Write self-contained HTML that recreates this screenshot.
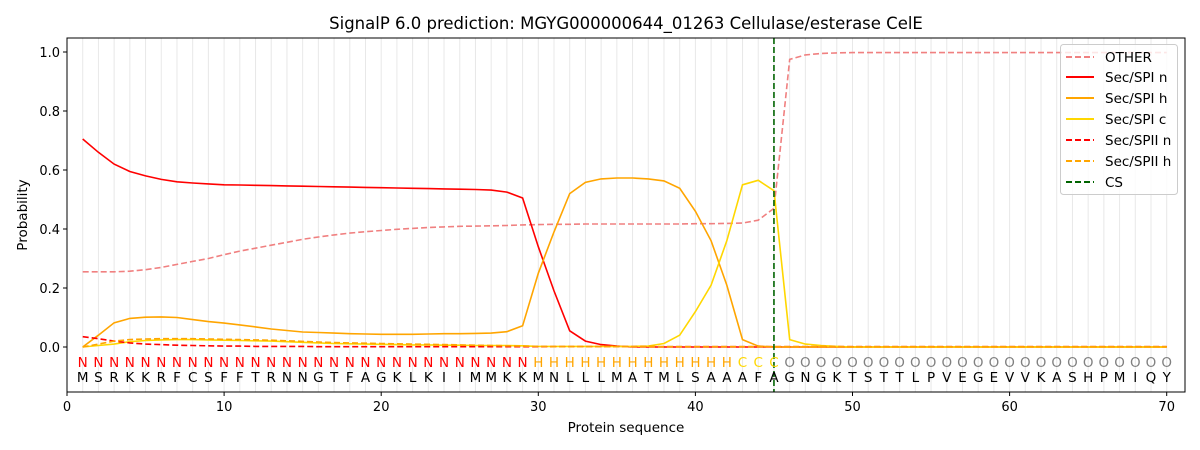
<!DOCTYPE html>
<html><head><meta charset="utf-8"><style>
html,body{margin:0;padding:0;background:#fff;}
svg{display:block;font-family:"DejaVu Sans","Liberation Sans",sans-serif;}
</style></head><body>
<svg id="s" width="1200" height="450" xmlns="http://www.w3.org/2000/svg">
<rect width="1200" height="450" fill="#fff"/>
<g id="grid"></g>
<g id="lines"></g>
<g id="letters"></g>
<rect x="67" y="38" width="1118" height="354" fill="none" stroke="#000" stroke-width="1"/>
<g id="ticks" font-size="13" fill="#000"></g>
<text x="626" y="29" font-size="16.5" text-anchor="middle">SignalP 6.0 prediction: MGYG000000644_01263 Cellulase/esterase CelE</text>
<text x="626" y="432" font-size="13.5" text-anchor="middle">Protein sequence</text>
<text transform="translate(27,215) rotate(-90)" font-size="13.5" text-anchor="middle">Probability</text>
<g>
<rect x="1060.5" y="44.5" width="117" height="150" rx="3" fill="#fff" fill-opacity="0.8" stroke="#ccc"/>
<g font-size="13.5">
<line x1="1066" x2="1094" y1="57" y2="57" stroke="#f08080" stroke-width="2" stroke-dasharray="6,3"/><text x="1105" y="62">OTHER</text>
<line x1="1066" x2="1094" y1="77" y2="77" stroke="#ff0000" stroke-width="2"/><text x="1105" y="82">Sec/SPI n</text>
<line x1="1066" x2="1094" y1="98" y2="98" stroke="#ffa500" stroke-width="2"/><text x="1105" y="103">Sec/SPI h</text>
<line x1="1066" x2="1094" y1="119" y2="119" stroke="#ffd700" stroke-width="2"/><text x="1105" y="124">Sec/SPI c</text>
<line x1="1066" x2="1094" y1="140" y2="140" stroke="#ff0000" stroke-width="2" stroke-dasharray="6,3"/><text x="1105" y="145">Sec/SPII n</text>
<line x1="1066" x2="1094" y1="161" y2="161" stroke="#ffa500" stroke-width="2" stroke-dasharray="6,3"/><text x="1105" y="166">Sec/SPII h</text>
<line x1="1066" x2="1094" y1="182" y2="182" stroke="#006400" stroke-width="2" stroke-dasharray="6,3"/><text x="1105" y="187">CS</text>
</g></g>
</svg>
<script>
var NS="http://www.w3.org/2000/svg";
function X(v){return 67+15.71*v;}
function Y(p){return 347-295*p;}
function el(t,a,p,txt){var e=document.createElementNS(NS,t);for(var k in a)e.setAttribute(k,a[k]);if(txt!==undefined)e.textContent=txt;document.getElementById(p).appendChild(e);return e;}
for(var i=1;i<=70;i++)el("line",{x1:X(i),x2:X(i),y1:38,y2:392,stroke:"#e8e8e8","stroke-width":1},"grid");
for(var t=0;t<=70;t+=10){el("line",{x1:X(t),x2:X(t),y1:392,y2:396,stroke:"#000"},"ticks");el("text",{x:X(t),y:411,"text-anchor":"middle"},"ticks",""+t);}
for(var t=0;t<=5;t++){var p=t*0.2;el("line",{x1:63,x2:67,y1:Y(p),y2:Y(p),stroke:"#000"},"ticks");el("text",{x:60,y:Y(p)+5,"text-anchor":"end"},"ticks",p.toFixed(1));}
function fill(arr,n,v){while(arr.length<n)arr.push(v);return arr;}
var other=fill([.255,.255,.255,.257,.262,.27,.28,.29,.30,.313,.325,.335,.345,.355,.365,.373,.38,.386,.391,.395,.399,.402,.405,.407,.409,.41,.411,.412,.414,.415,.416,.416,.417,.417,.417,.417,.417,.417,.417,.418,.418,.419,.42,.43,.47,.975,.99,.995,.997],70,.998);
var n1=fill([.705,.66,.62,.595,.58,.568,.56,.556,.553,.55,.549,.548,.547,.546,.545,.544,.543,.542,.541,.540,.539,.538,.537,.536,.535,.534,.532,.525,.505,.34,.19,.055,.02,.008,.003],70,0);
var h1=fill([0,.04,.082,.097,.101,.102,.1,.093,.086,.081,.075,.068,.061,.056,.051,.049,.047,.045,.044,.043,.043,.043,.044,.045,.045,.046,.047,.052,.072,.25,.39,.52,.558,.57,.573,.573,.57,.563,.538,.46,.36,.21,.025,.003],70,0);
var c1=fill([0,.005,.01,.018,.022,.024,.025,.025,.024,.023,.022,.021,.02,.018,.016,.014,.012,.011,.01,.009,.008,.007,.007,.006,.006,.005,.005,.005,.004,.002,.002,.002,.002,.002,.002,.002,.003,.012,.04,.12,.21,.36,.55,.565,.53,.025,.01,.005,.002],70,0);
var n2=fill([.035,.028,.02,.014,.01,.008,.006,.005,.004,.003,.003,.002,.002,.002,.002,.001],70,0.001);
var h2=fill([0,.01,.02,.025,.027,.028,.028,.028,.027,.026,.025,.024,.023,.021,.019,.017,.015,.014,.013,.012,.011,.01,.009,.008,.007,.006,.005,.004,.003,.002],70,0.001);
function pl(d,c,dash){var s="";for(var i=0;i<d.length;i++)s+=(i?"L":"M")+X(i+1).toFixed(1)+","+Y(d[i]).toFixed(1);var a={d:s,fill:"none",stroke:c,"stroke-width":1.6};if(dash)a["stroke-dasharray"]="6,3";el("path",a,"lines");}
pl(other,"#f08080",1);pl(n1,"#ff0000");pl(h1,"#ffa500");pl(c1,"#ffd700");pl(n2,"#ff0000",1);pl(h2,"#ffa500",1);
el("line",{x1:X(45),x2:X(45),y1:38,y2:392,stroke:"#006400","stroke-width":1.6,"stroke-dasharray":"6,3"},"lines");
var seq="MSRKKRFCSFFTRNNGTFAGKLKIIMMKKMNLLLMATMLSAAAFAGNGKTSTTLPVEGEVVKASHPMIQY";
for(var i=1;i<=70;i++){var L,c;if(i<=29){L="N";c="#ff0000";}else if(i<=42){L="H";c="#ffa500";}else if(i<=45){L="C";c="#ffd700";}else{L="O";c="#808080";}
el("text",{x:X(i),y:367,"text-anchor":"middle","font-size":13.5,fill:c},"letters",L);
el("text",{x:X(i),y:382,"text-anchor":"middle","font-size":13.5,fill:"#000"},"letters",seq[i-1]);}
</script>
</body></html>
